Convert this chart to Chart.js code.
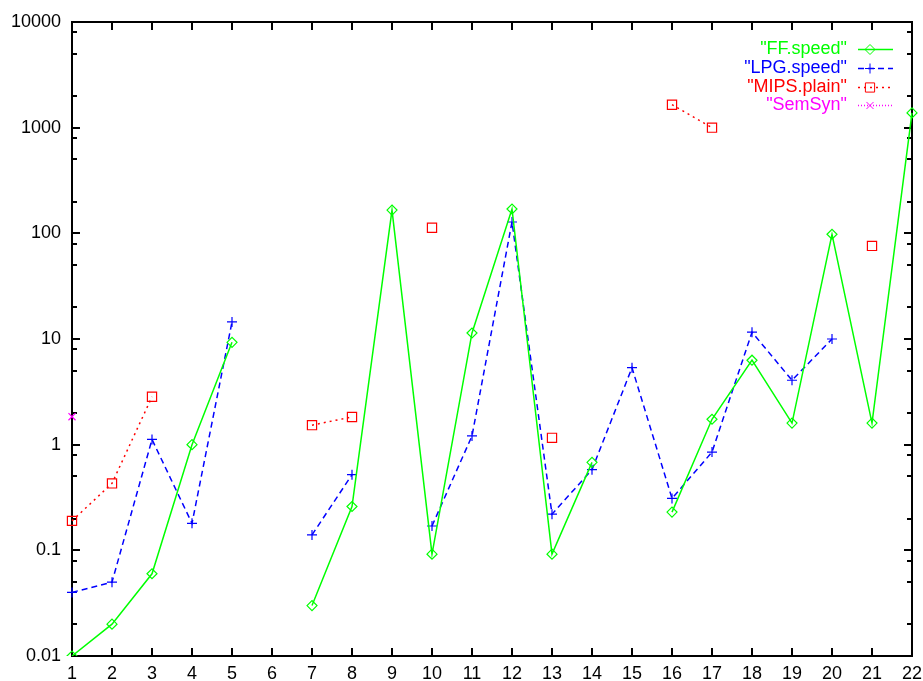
<!DOCTYPE html>
<html>
<head>
<meta charset="utf-8">
<script src="https://cdn.jsdelivr.net/npm/chart.js@4/dist/chart.umd.min.js"></script>
<style>
  html, body { margin: 0; padding: 0; background: #fff; }
  #wrap { width: 923px; height: 681px; }
</style>
</head>
<body>
<div id="wrap"><canvas id="main-chart" width="923" height="681"></canvas></div>
<script>
var xLabels = ["1","2","3","4","5","6","7","8","9","10","11","12","13","14","15","16","17","18","19","20","21","22"];
var ffSpeed   = [0.01, 0.02, 0.06, 1.0, 9.3, null, 0.03, 0.26, 166, 0.092, 11.4, 170, 0.092, 0.68, null, 0.23, 1.74, 6.3, 1.6, 98, 1.6, 1380];
var lpgSpeed  = [0.04, 0.05, 1.12, 0.18, 14.5, null, 0.14, 0.52, null, 0.17, 1.21, 128, 0.22, 0.58, 5.35, 0.31, 0.85, 11.6, 4.07, 10, null, null];
var mipsPlain = [0.19, 0.43, 2.84, null, null, null, 1.53, 1.83, null, 113, null, null, 1.16, null, null, 1650, 1000, null, null, null, 76, null];
var semSyn    = [1.84, null, null, null, null, null, null, null, null, null, null, null, null, null, null, null, null, null, null, null, null, null];
var yTicks = [0.01, 0.1, 1, 10, 100, 1000, 10000];
var yMinorTicks = [0.02, 0.05, 0.08, 0.2, 0.5, 0.8, 2, 5, 8, 20, 50, 80, 200, 500, 800, 2000, 5000, 8000];

Chart.defaults.font.family = "'Liberation Sans', Arial, Helvetica, sans-serif";
Chart.defaults.font.size = 18;
Chart.defaults.color = '#000';

// key in the top right corner: text then line sample with marker
var keyPlugin = {
  id: 'gpkey',
  afterDatasetsDraw: function(chart) {
    var ctx = chart.ctx;
    var textRight = 847, x1 = 858, x2 = 893, mx = 870;
    var rowY = [49, 68, 87, 105];
    ctx.save();
    chart.data.datasets.forEach(function(ds, i) {
      var y = rowY[i];
      ctx.font = "18px 'Liberation Sans', Arial, sans-serif";
      ctx.fillStyle = ds.borderColor;
      ctx.textAlign = 'right';
      ctx.textBaseline = 'middle';
      ctx.fillText('"' + ds.label + '"', textRight, y);
      ctx.strokeStyle = ds.borderColor;
      ctx.lineWidth = ds.borderWidth;
      ctx.setLineDash(ds.borderDash || []);
      ctx.beginPath();
      ctx.moveTo(x1, y + 0.5); ctx.lineTo(x2, y + 0.5);
      ctx.stroke();
      ctx.setLineDash([]);
      ctx.lineWidth = 1;
      ctx.fillStyle = 'rgba(0,0,0,0)';
      Chart.helpers.drawPoint(ctx, { pointStyle: ds.pointStyle, radius: ds.pointRadius, rotation: 0, borderWidth: 1 }, mx, y + 0.5);
    });
    ctx.restore();
  }
};

function mkSet(label, data, color, dash, style, r) {
  return {
    label: label,
    data: data,
    xAxisID: 'x',
    yAxisID: 'y',
    borderColor: color,
    backgroundColor: color,
    borderWidth: 1.5,
    borderDash: dash,
    pointStyle: style,
    pointRadius: r,
    pointBorderColor: color,
    pointBackgroundColor: 'rgba(0,0,0,0)',
    pointBorderWidth: 1.2,
    spanGaps: false,
    tension: 0,
    fill: false
  };
}

// inward ticks, gnuplot style
function tickGrid(len) {
  return { display: true, drawOnChartArea: false, drawTicks: true, tickLength: -len, color: '#000', tickColor: '#000', lineWidth: 2, offset: false };
}
var blackBorder = { display: true, color: '#000', width: 2 };
var noBorder = { display: false };

function logAxis(pos, weight, values, len, showLabels, border) {
  return {
    type: 'logarithmic',
    axis: 'y',
    position: pos,
    weight: weight,
    min: 0.01,
    max: 10000,
    grid: tickGrid(len),
    border: border,
    ticks: {
      display: showLabels,
      padding: 19,
      callback: function(v) { return String(v); }
    },
    afterBuildTicks: function(s) {
      s.ticks = values.map(function(v) { return { value: v }; });
    },
    afterFit: function(s) {
      s.width = showLabels ? 72 : 0;
      s.paddingTop = 0;
      s.paddingBottom = 0;
    }
  };
}

const mainChart = new Chart(document.getElementById('main-chart'), {
  type: 'line',
  data: {
    labels: xLabels,
    datasets: [
      mkSet('FF.speed', ffSpeed, '#00ff00', [], 'rectRot', 5),
      mkSet('LPG.speed', lpgSpeed, '#0000ff', [6, 4], 'cross', 5),
      mkSet('MIPS.plain', mipsPlain, '#ff0000', [2, 4], 'rect', 6.5),
      mkSet('SemSyn', semSyn, '#ff00ff', [1, 2], 'crossRot', 5)
    ]
  },
  options: {
    responsive: false,
    animation: false,
    layout: { padding: { top: 22, right: 11, left: 0, bottom: 0 } },
    plugins: {
      legend: { display: false },
      tooltip: { enabled: false }
    },
    scales: {
      x: {
        type: 'category',
        position: 'bottom',
        offset: false,
        grid: tickGrid(8),
        border: blackBorder,
        ticks: { padding: 15, maxRotation: 0, autoSkip: false },
        afterFit: function(s) { s.height = 25; s.paddingRight = 0; s.paddingLeft = 0; }
      },
      xTop: {
        type: 'category',
        axis: 'x',
        position: 'top',
        offset: false,
        grid: tickGrid(8),
        border: blackBorder,
        ticks: { display: false, autoSkip: false },
        afterFit: function(s) { s.height = 0; s.paddingRight = 0; s.paddingLeft = 0; }
      },
      y: logAxis('left', 1, yTicks, 8, true, blackBorder),
      yMinor: logAxis('left', 0, yMinorTicks, 5, false, noBorder),
      yRight: logAxis('right', 1, yTicks, 8, false, blackBorder),
      yRightMinor: logAxis('right', 0, yMinorTicks, 5, false, noBorder)
    }
  },
  plugins: [keyPlugin]
});
</script>
</body>
</html>
